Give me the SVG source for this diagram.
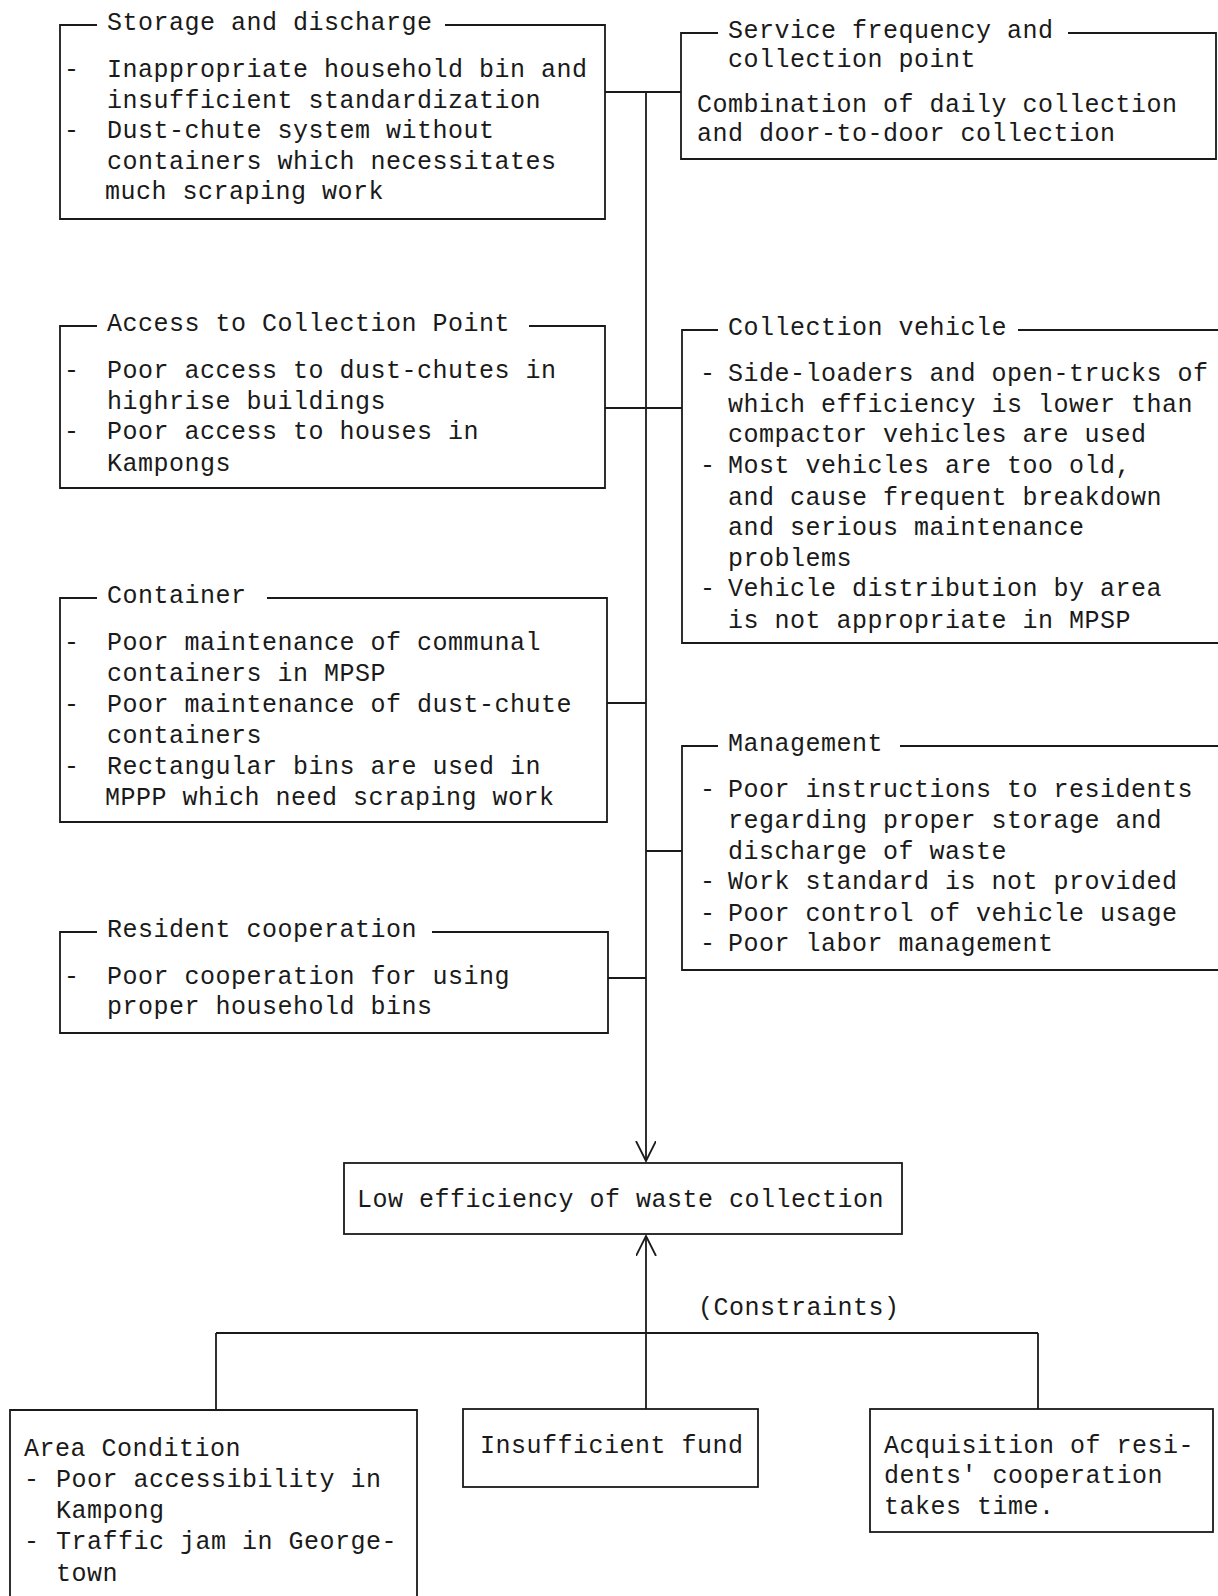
<svg xmlns="http://www.w3.org/2000/svg" width="1218" height="1596" viewBox="0 0 1218 1596">
<defs>
<marker id="arr" markerUnits="userSpaceOnUse" markerWidth="24" markerHeight="24" refX="20" refY="10" orient="auto">
<path d="M0,0 L20,10 L0,20" fill="none" stroke="#1a1a1a" stroke-width="1.8"/>
</marker>
<style>
.b{fill:none;stroke:#1a1a1a;stroke-width:1.8}
.c{fill:none;stroke:#1a1a1a;stroke-width:1.8}
text{font-family:"Liberation Mono","Courier New",monospace;font-size:25px;letter-spacing:0.5px;fill:#1a1a1a}
</style>
</defs>
<rect width="1218" height="1596" fill="#fff"/>

<g id="connectors">
<path class="c" d="M646 92 V1161" marker-end="url(#arr)"/>
<path class="c" d="M605 92 H681"/>
<path class="c" d="M605 408 H682"/>
<path class="c" d="M607 703 H646"/>
<path class="c" d="M646 851 H682"/>
<path class="c" d="M608 978 H646"/>
<path class="c" d="M646 1409 V1236" marker-end="url(#arr)"/>
<path class="c" d="M216 1333 H1038"/>
<path class="c" d="M216 1333 V1410"/>
<path class="c" d="M1038 1333 V1409"/>
</g>

<g id="storage">
<path class="b" d="M97 25 H60 V219 H605 V25 H445"/>
<text x="107" y="30">Storage and discharge</text>
<text x="64" y="77">-</text><text x="107" y="77">Inappropriate household bin and</text>
<text x="107" y="108">insufficient standardization</text>
<text x="64" y="138">-</text><text x="107" y="138">Dust-chute system without</text>
<text x="107" y="169">containers which necessitates</text>
<text x="105" y="199">much scraping work</text>
</g>

<g id="service">
<path class="b" d="M718 33 H681 V159 H1216 V33 H1068"/>
<text x="728" y="38">Service frequency and</text>
<text x="728" y="67">collection point</text>
<text x="697" y="112">Combination of daily collection</text>
<text x="697" y="141">and door-to-door collection</text>
</g>

<g id="access">
<path class="b" d="M97 326 H60 V488 H605 V326 H529"/>
<text x="107" y="331">Access to Collection Point</text>
<text x="64" y="378">-</text><text x="107" y="378">Poor access to dust-chutes in</text>
<text x="107" y="409">highrise buildings</text>
<text x="64" y="439">-</text><text x="107" y="439">Poor access to houses in</text>
<text x="107" y="471">Kampongs</text>
</g>

<g id="vehicle">
<path class="b" d="M718 330 H682 V643 H1218 M1018 330 H1218"/>
<text x="728" y="335">Collection vehicle</text>
<text x="700" y="381">-</text><text x="728" y="381">Side-loaders and open-trucks of</text>
<text x="728" y="412">which efficiency is lower than</text>
<text x="728" y="442">compactor vehicles are used</text>
<text x="700" y="473">-</text><text x="728" y="473">Most vehicles are too old,</text>
<text x="728" y="505">and cause frequent breakdown</text>
<text x="728" y="535">and serious maintenance</text>
<text x="728" y="566">problems</text>
<text x="700" y="596">-</text><text x="728" y="596">Vehicle distribution by area</text>
<text x="728" y="628">is not appropriate in MPSP</text>
</g>

<g id="container">
<path class="b" d="M97 598 H60 V822 H607 V598 H267"/>
<text x="107" y="603">Container</text>
<text x="64" y="650">-</text><text x="107" y="650">Poor maintenance of communal</text>
<text x="107" y="681">containers in MPSP</text>
<text x="64" y="712">-</text><text x="107" y="712">Poor maintenance of dust-chute</text>
<text x="107" y="743">containers</text>
<text x="64" y="774">-</text><text x="107" y="774">Rectangular bins are used in</text>
<text x="105" y="805">MPPP which need scraping work</text>
</g>

<g id="management">
<path class="b" d="M718 746 H682 V970 H1218 M900 746 H1218"/>
<text x="728" y="751">Management</text>
<text x="700" y="797">-</text><text x="728" y="797">Poor instructions to residents</text>
<text x="728" y="828">regarding proper storage and</text>
<text x="728" y="859">discharge of waste</text>
<text x="700" y="889">-</text><text x="728" y="889">Work standard is not provided</text>
<text x="700" y="921">-</text><text x="728" y="921">Poor control of vehicle usage</text>
<text x="700" y="951">-</text><text x="728" y="951">Poor labor management</text>
</g>

<g id="resident">
<path class="b" d="M97 932 H60 V1033 H608 V932 H432"/>
<text x="107" y="937">Resident cooperation</text>
<text x="64" y="984">-</text><text x="107" y="984">Poor cooperation for using</text>
<text x="107" y="1014">proper household bins</text>
</g>

<g id="low-efficiency">
<rect class="b" x="344" y="1163" width="558" height="71"/>
<text x="357" y="1207">Low efficiency of waste collection</text>
</g>

<g id="constraints-label">
<text x="698" y="1315">(Constraints)</text>
</g>

<g id="area">
<path class="b" d="M10 1600 V1410 H417 V1600"/>
<text x="24" y="1456">Area Condition</text>
<text x="24" y="1487">-</text><text x="56" y="1487">Poor accessibility in</text>
<text x="56" y="1518">Kampong</text>
<text x="24" y="1549">-</text><text x="56" y="1549">Traffic jam in George-</text>
<text x="56" y="1581">town</text>
</g>

<g id="fund">
<rect class="b" x="463" y="1409" width="295" height="78"/>
<text x="480" y="1453">Insufficient fund</text>
</g>

<g id="acquisition">
<rect class="b" x="870" y="1409" width="343" height="123"/>
<text x="884" y="1453">Acquisition of resi-</text>
<text x="884" y="1483">dents' cooperation</text>
<text x="884" y="1514">takes time.</text>
</g>
</svg>
